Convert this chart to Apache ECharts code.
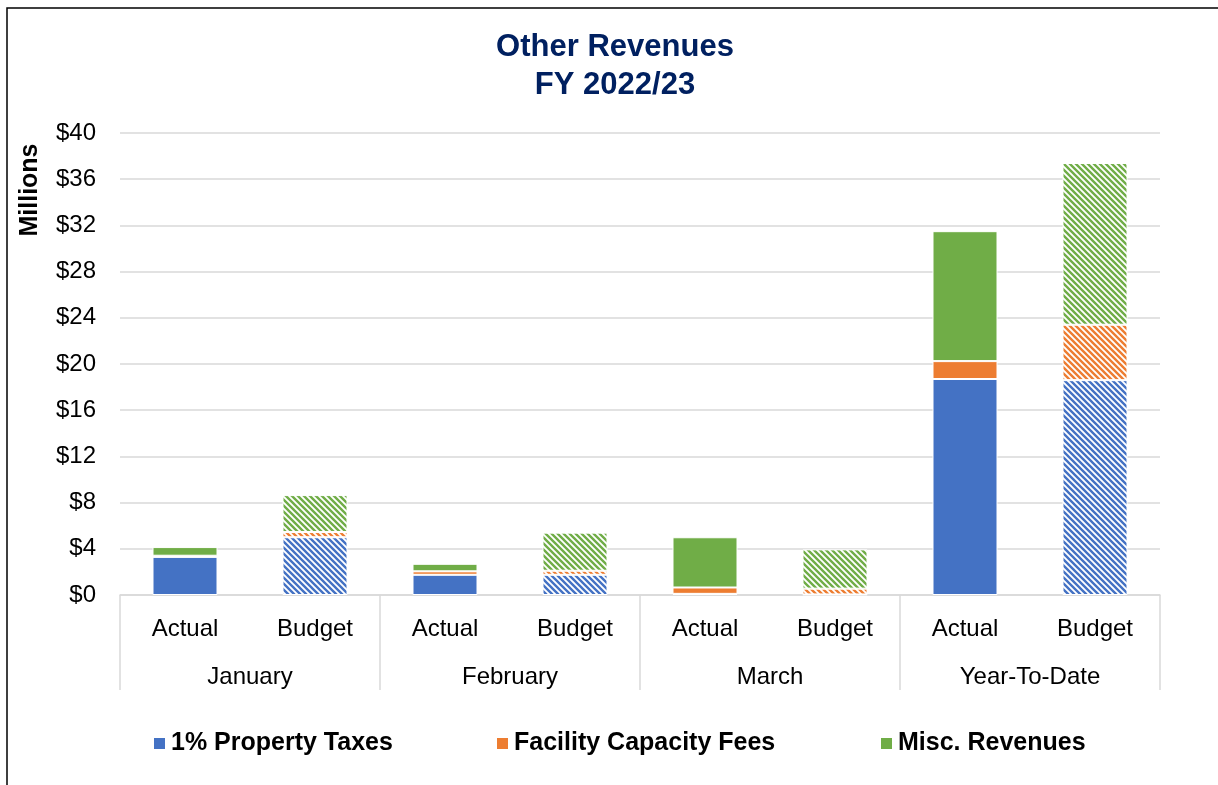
<!DOCTYPE html>
<html>
<head>
<meta charset="utf-8">
<script src="https://cdn.jsdelivr.net/npm/echarts@6/dist/echarts.min.js"></script>
<style>
html,body{margin:0;padding:0;background:#fff;}
#chart{width:1218px;height:785px;}
</style>
</head>
<body>
<div id="chart"></div>
<script>
// ---- data ----
const barLabels = ['Actual', 'Budget', 'Actual', 'Budget', 'Actual', 'Budget', 'Actual', 'Budget'];
const groupLabels = ['January', 'February', 'March', 'Year-To-Date'];
const seriesNames = ['1% Property Taxes', 'Facility Capacity Fees', 'Misc. Revenues'];
const propertyTaxes = [3.3, 5.0, 1.75, 1.75, 0.1, 0.05, 18.7, 18.6];
const facilityFees = [0.1, 0.45, 0.3, 0.35, 0.55, 0.5, 1.55, 4.8];
const miscRevenues = [0.75, 3.2, 0.65, 3.3, 4.35, 3.4, 11.25, 14.0];
const yTicks = [0, 4, 8, 12, 16, 20, 24, 28, 32, 36, 40];

const colors = ['#4472C4', '#ED7D31', '#70AD47'];
const FONT = '"Liberation Sans", Arial, sans-serif';

function hatch(color) {
  const p = 6;
  const c = document.createElement('canvas');
  c.width = p; c.height = p;
  const ctx = c.getContext('2d');
  ctx.fillStyle = '#ffffff';
  ctx.fillRect(0, 0, p, p);
  ctx.strokeStyle = color;
  ctx.lineWidth = 2.4;
  ctx.lineCap = 'square';
  ctx.beginPath();
  ctx.moveTo(-p, -p); ctx.lineTo(2 * p, 2 * p);
  ctx.moveTo(-p, 0); ctx.lineTo(p, 2 * p);
  ctx.moveTo(0, -p); ctx.lineTo(2 * p, p);
  ctx.stroke();
  return { image: c, repeat: 'repeat' };
}

function buildData(values, idx) {
  return values.map((v, i) => {
    if (barLabels[i] === 'Budget') {
      return { value: v, itemStyle: { color: hatch(colors[idx]) } };
    }
    return v;
  });
}

const allValues = [propertyTaxes, facilityFees, miscRevenues];
const series = allValues.map((vals, k) => ({
  name: seriesNames[k],
  type: 'bar',
  stack: 'total',
  barWidth: '50%',
  xAxisIndex: 0,
  itemStyle: { color: colors[k], borderColor: '#ffffff', borderWidth: 1 },
  data: buildData(vals, k)
}));

const chart = echarts.init(document.getElementById('chart'));
chart.setOption({
  animation: false,
  backgroundColor: '#ffffff',
  graphic: [
    { type: 'rect', shape: { x: 7, y: 8, width: 1400, height: 1000 }, style: { fill: 'none', stroke: '#000', lineWidth: 1.5 }, silent: true },
    { type: 'text', x: 615, y: 28, style: { text: 'Other Revenues\nFY 2022/23', fill: '#002060', font: 'bold 31px ' + FONT, textAlign: 'center', lineHeight: 38 } },
    { type: 'text', x: 30, y: 190, rotation: Math.PI / 2, style: { text: 'Millions', fill: '#000', font: 'bold 25px ' + FONT, textAlign: 'center', textVerticalAlign: 'middle' } }
  ],
  legend: seriesNames.map((n, i) => ({
    data: [n],
    left: [147, 490, 874][i],
    top: 726,
    icon: 'rect',
    itemWidth: 13,
    itemHeight: 13,
    itemGap: 6,
    selectedMode: false,
    textStyle: { fontFamily: FONT, fontWeight: 'bold', fontSize: 25, color: '#000' }
  })),
  grid: { left: 120, right: 58, top: 133, bottom: 190, containLabel: false },
  xAxis: [
    {
      type: 'category',
      data: barLabels,
      position: 'bottom',
      axisLine: { show: true, lineStyle: { color: '#D9D9D9', width: 1.5 } },
      axisTick: { show: false },
      axisLabel: { fontFamily: FONT, fontSize: 24, color: '#000', margin: 22, interval: 0 }
    },
    {
      type: 'category',
      data: groupLabels,
      position: 'bottom',
      axisLine: { show: false },
      axisTick: { show: true, length: 95, alignWithLabel: false, lineStyle: { color: '#D9D9D9', width: 1.5 } },
      axisLabel: { fontFamily: FONT, fontSize: 24, color: '#000', margin: 70, interval: 0 }
    }
  ],
  yAxis: {
    type: 'value',
    min: yTicks[0],
    max: yTicks[yTicks.length - 1],
    interval: 4,
    axisLine: { show: false },
    axisTick: { show: false },
    splitLine: { lineStyle: { color: '#D9D9D9', width: 1.5 } },
    axisLabel: { fontFamily: FONT, fontSize: 24, color: '#000', margin: 24, formatter: v => '$' + v }
  },
  series: series
});
</script>
</body>
</html>
